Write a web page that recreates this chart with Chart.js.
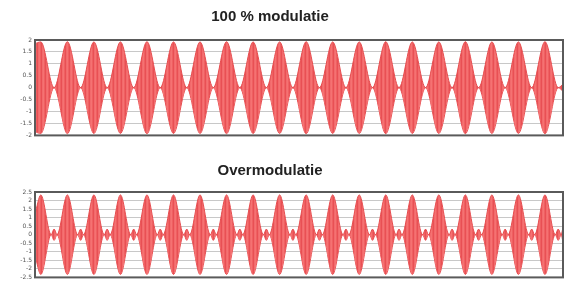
<!DOCTYPE html>
<html>
<head>
<meta charset="utf-8">
<script src="https://cdn.jsdelivr.net/npm/chart.js@4.4.0/dist/chart.umd.min.js"></script>
<style>
  html, body { margin: 0; padding: 0; background: #fff; overflow: hidden; width: 567px; height: 284px; }
  .plot { position: absolute; left: -23px; width: 588px; height: 142px; }
</style>
</head>
<body>
<canvas id="top" class="plot" width="588" height="142" style="top:0"></canvas>
<canvas id="over" class="plot" width="588" height="142" style="top:142px"></canvas>
<script>
// envelope of the AM signal (time in modulation periods)
var topTime = [0,
  0.22, 0.72, 1.22, 1.72, 2.22, 2.72, 3.22, 3.72, 4.22, 4.72,
  5.22, 5.72, 6.22, 6.72, 7.22, 7.72, 8.22, 8.72, 9.22, 9.72,
  10.22, 10.72, 11.22, 11.72, 12.22, 12.72, 13.22, 13.72, 14.22, 14.72,
  15.22, 15.72, 16.22, 16.72, 17.22, 17.72, 18.22, 18.72, 19.22, 19.72,
  19.9];
var topEnv = [1.85,
  1.92, 0, 1.93, 0, 1.92, 0, 1.92, 0, 1.93, 0,
  1.92, 0, 1.92, 0, 1.93, 0, 1.92, 0, 1.92, 0,
  1.93, 0, 1.92, 0, 1.92, 0, 1.93, 0, 1.92, 0,
  1.92, 0, 1.93, 0, 1.92, 0, 1.92, 0, 1.93, 0,
  0.15];

var overTime = [0,
  0.22, 0.61, 0.72, 0.83, 1.22, 1.61, 1.72, 1.83, 2.22, 2.61, 2.72, 2.83, 3.22, 3.61, 3.72, 3.83, 4.22, 4.61, 4.72, 4.83,
  5.22, 5.61, 5.72, 5.83, 6.22, 6.61, 6.72, 6.83, 7.22, 7.61, 7.72, 7.83, 8.22, 8.61, 8.72, 8.83, 9.22, 9.61, 9.72, 9.83,
  10.22, 10.61, 10.72, 10.83, 11.22, 11.61, 11.72, 11.83, 12.22, 12.61, 12.72, 12.83, 13.22, 13.61, 13.72, 13.83, 14.22, 14.61, 14.72, 14.83,
  15.22, 15.61, 15.72, 15.83, 16.22, 16.61, 16.72, 16.83, 17.22, 17.61, 17.72, 17.83, 18.22, 18.61, 18.72, 18.83, 19.22, 19.61, 19.72, 19.83,
  19.9];
var overEnv = [1.2,
  2.33, 0, 0.33, 0, 2.33, 0, 0.33, 0, 2.33, 0, 0.33, 0, 2.33, 0, 0.33, 0, 2.33, 0, 0.33, 0,
  2.33, 0, 0.33, 0, 2.33, 0, 0.33, 0, 2.33, 0, 0.33, 0, 2.33, 0, 0.33, 0, 2.33, 0, 0.33, 0,
  2.33, 0, 0.33, 0, 2.33, 0, 0.33, 0, 2.33, 0, 0.33, 0, 2.33, 0, 0.33, 0, 2.33, 0, 0.33, 0,
  2.33, 0, 0.33, 0, 2.33, 0, 0.33, 0, 2.33, 0, 0.33, 0, 2.33, 0, 0.33, 0, 2.33, 0, 0.33, 0,
  0.44];

var topTicks = [-2, -1.5, -1, -0.5, 0, 0.5, 1, 1.5, 2];
var overTicks = [-2.5, -2, -1.5, -1, -0.5, 0, 0.5, 1, 1.5, 2, 2.5];

// vertical stripes to look like the dense carrier
function carrierPattern() {
  var c = document.createElement('canvas');
  c.width = 4; c.height = 1;
  var g = c.getContext('2d');
  var cols = ['rgb(232,80,84)', 'rgb(242,106,108)', 'rgb(245,114,114)', 'rgb(239,96,98)'];
  for (var i = 0; i < 4; i++) { g.fillStyle = cols[i]; g.fillRect(i, 0, 1, 1); }
  return g.createPattern(c, 'repeat');
}

var framePlugin = {
  id: 'frame',
  afterDatasetsDraw: function(chart) {
    var a = chart.chartArea, ctx = chart.ctx;
    ctx.save();
    ctx.strokeStyle = '#5a5a5a';
    ctx.lineWidth = 2;
    ctx.strokeRect(a.left, a.top, a.right - a.left, a.bottom - a.top);
    ctx.restore();
  }
};

function makeChart(id, title, time, env, ticks, pad) {
  var upper = time.map(function(t, i) { return {x: t, y: env[i]}; });
  var lower = time.map(function(t, i) { return {x: t, y: -env[i]}; });
  var lim = ticks[ticks.length - 1];
  return new Chart(document.getElementById(id), {
    type: 'line',
    data: {
      datasets: [{
        data: upper,
        fill: '+1',
        backgroundColor: carrierPattern(),
        borderColor: 'rgb(230,78,80)',
        borderWidth: 1,
        pointRadius: 0,
        cubicInterpolationMode: 'monotone'
      }, {
        data: lower,
        fill: false,
        borderColor: 'rgb(230,78,80)',
        borderWidth: 1,
        pointRadius: 0,
        cubicInterpolationMode: 'monotone'
      }]
    },
    options: {
      responsive: false,
      animation: false,
      devicePixelRatio: 1,
      layout: { padding: { left: 0, right: 2, bottom: 5, top: 0 } },
      plugins: {
        legend: { display: false },
        tooltip: { enabled: false },
        title: {
          display: true,
          text: title,
          color: '#222',
          font: { family: 'Liberation Sans, Arial, sans-serif', size: 15, weight: 'bold' },
          padding: pad
        }
      },
      scales: {
        x: { type: 'linear', min: 0, max: 19.9, display: false },
        y: {
          min: -lim, max: lim,
          afterBuildTicks: function(s) { s.ticks = ticks.map(function(v) { return {value: v}; }); },
          afterFit: function(s) { s.width = 58; },
          border: { display: false },
          grid: { color: '#c8c8c8', lineWidth: 1, drawTicks: false },
          ticks: {
            autoSkip: false,
            padding: 3,
            color: '#555',
            font: { family: 'DejaVu Sans, sans-serif', size: 6 },
            callback: function(v) { return String(v); }
          }
        }
      }
    },
    plugins: [framePlugin]
  });
}

makeChart('top', '100 % modulatie', topTime, topEnv, topTicks, {top: 8, bottom: 14});
makeChart('over', 'Overmodulatie', overTime, overEnv, overTicks, {top: 20, bottom: 12});
</script>
</body>
</html>
